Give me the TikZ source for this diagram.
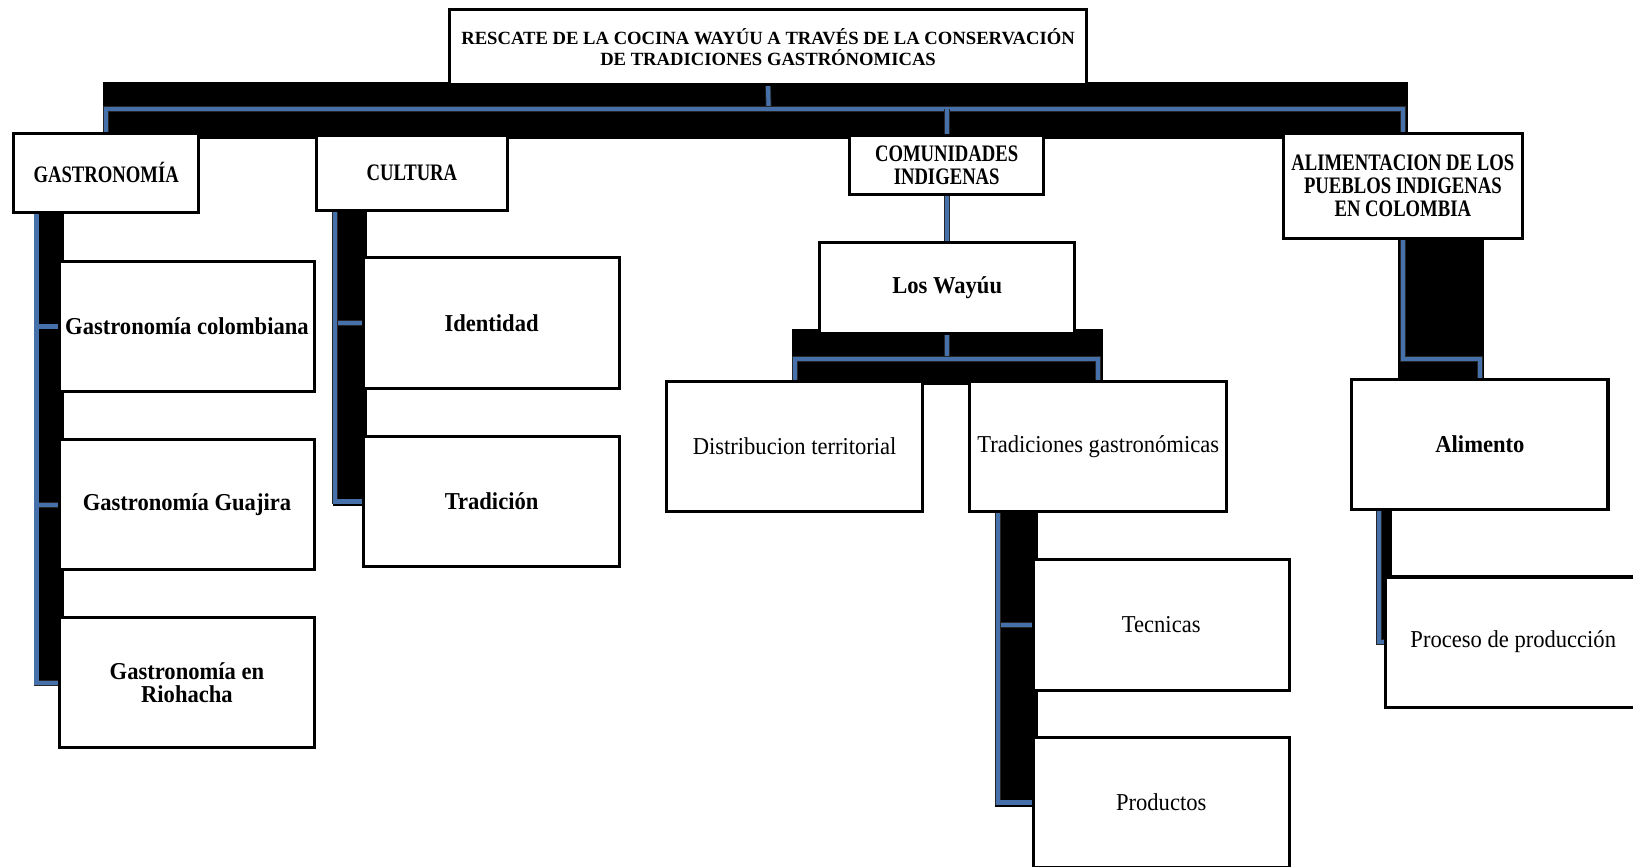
\documentclass[tikz,border=0pt]{standalone}
\usepackage{fontspec}
\setmainfont{Liberation Serif}
\newfontfamily\condserif[FakeStretch=0.79]{Liberation Serif}
\newfontfamily\midserif[FakeStretch=0.93]{Liberation Serif}
\definecolor{lnblue}{RGB}{70,112,170}
\pgfdeclarelayer{bg}
\pgfsetlayers{bg,main}
\begin{document}
\begin{tikzpicture}[x=1pt,y=-1pt,
 box/.style={draw=black, line width=3pt, fill=white, inner sep=0pt, align=center, text=black},
 conn/.style={draw=black!85, line width=0.8pt, double=lnblue, double distance=4pt, line join=miter},
 shadowbar/.style={fill=black},
 tl/.style={font=\fontsize{17.9}{20}\selectfont\bfseries},
 lone/.style={font=\condserif\fontsize{22.7}{22}\selectfont\bfseries},
 ltwob/.style={font=\midserif\fontsize{23.3}{22}\selectfont\bfseries},
 ltwo/.style={font=\midserif\fontsize{23.3}{24}\selectfont}]
\useasboundingbox (0,0) rectangle (1568,832);
\clip (0,0) rectangle (1568,832);

% nodes
\node[box,tl,minimum width=611,minimum height=72] (title) at (737.5,45) {RESCATE DE LA COCINA WAYÚU A TRAVÉS DE LA CONSERVACIÓN\\DE TRADICIONES GASTRÓNOMICAS};
\node[box,lone,minimum width=178,minimum height=76] (gas) at (102,166) {GASTRONOMÍA};
\node[box,lone,minimum width=183,minimum height=72] (cul) at (395.5,166) {CULTURA};
\node[box,lone,minimum width=186,minimum height=57] (com) at (909,158.5) {COMUNIDADES\\INDIGENAS};
\node[box,lone,minimum width=230,minimum height=101] (ali) at (1347,178.5) {ALIMENTACION DE LOS\\PUEBLOS INDIGENAS\\EN COLOMBIA};

\node[box,ltwob,minimum width=245,minimum height=125] (gcol) at (179.5,313.5) {Gastronomía colombiana};
\node[box,ltwob,minimum width=245,minimum height=125] (ggua) at (179.5,484.5) {Gastronomía Guajira};
\node[box,ltwob,minimum width=245,minimum height=125] (grio) at (179.5,655.5) {Gastronomía en\\Riohacha};

\node[box,ltwob,minimum width=246,minimum height=126] (ide) at (472,310) {Identidad};
\node[box,ltwob,minimum width=246,minimum height=125] (tra) at (472,481.5) {Tradición};

\node[box,ltwob,minimum width=245,minimum height=87] (way) at (909.5,276.5) {Los Wayúu};
\node[box,ltwo,minimum width=246,minimum height=125] (dis) at (763,428.5) {Distribucion territorial};
\node[box,ltwo,minimum width=247,minimum height=125] (tgas) at (1054.5,428.5) {Tradiciones gastronómicas};
\node[box,ltwo,minimum width=246,minimum height=126] (tec) at (1115,600) {Tecnicas};
\node[box,ltwo,minimum width=246,minimum height=125] (pro) at (1115,770.5) {Productos};

\node[box,ltwob,minimum width=246,minimum height=125] (alim) at (1421,426.5) {Alimento};
\node[box,ltwo,minimum width=246,minimum height=125] (proc) at (1453,616.5) {Proceso de producción};

\begin{pgfonlayer}{bg}
% shadow bars
\fill[shadowbar] (99,79) rectangle (1352,133);
\fill[shadowbar] (33,204) rectangle (61,657);
\fill[shadowbar] (320,202) rectangle (352,486);
\fill[shadowbar] (760,316) rectangle (1059,370);
\fill[shadowbar] (955,491) rectangle (997,775);
\fill[shadowbar] (1342,229) rectangle (1425,364);
\fill[shadowbar] (1322,489) rectangle (1337,617);

% connectors
\coordinate (topbus) at (738,105);
\draw[conn] (title.south) -- (topbus);
\draw[conn] (gas.north) |- (topbus) -| (ali.north);
\draw[conn] (com.north) -- (com.north |- topbus);

\coordinate (gtop) at (35,204);
\draw[conn] (gtop) |- (gcol.west);
\draw[conn] (gtop) |- (ggua.west);
\draw[conn] (gtop) |- (grio.west);

\coordinate (ctop) at (322,202);
\draw[conn] (ctop) |- (ide.west);
\draw[conn] (ctop) |- (tra.west);

\draw[conn] (com.south) -- (com.south |- way.north);

\coordinate (wbus) at (910,345);
\draw[conn] (way.south) -- (way.south |- wbus);
\draw[conn] (dis.north) |- (wbus) -| (tgas.north);

\coordinate (ttop) at (958,491);
\draw[conn] (ttop) |- (tec.west);
\draw[conn] (ttop) |- (pro.west);

\draw[conn] (ali.south) -- ++(0,114) -| (alim.north);

\coordinate (atop) at (1324,489);
\draw[conn] (atop) |- (proc.west);
\end{pgfonlayer}
\end{tikzpicture}
\end{document}
